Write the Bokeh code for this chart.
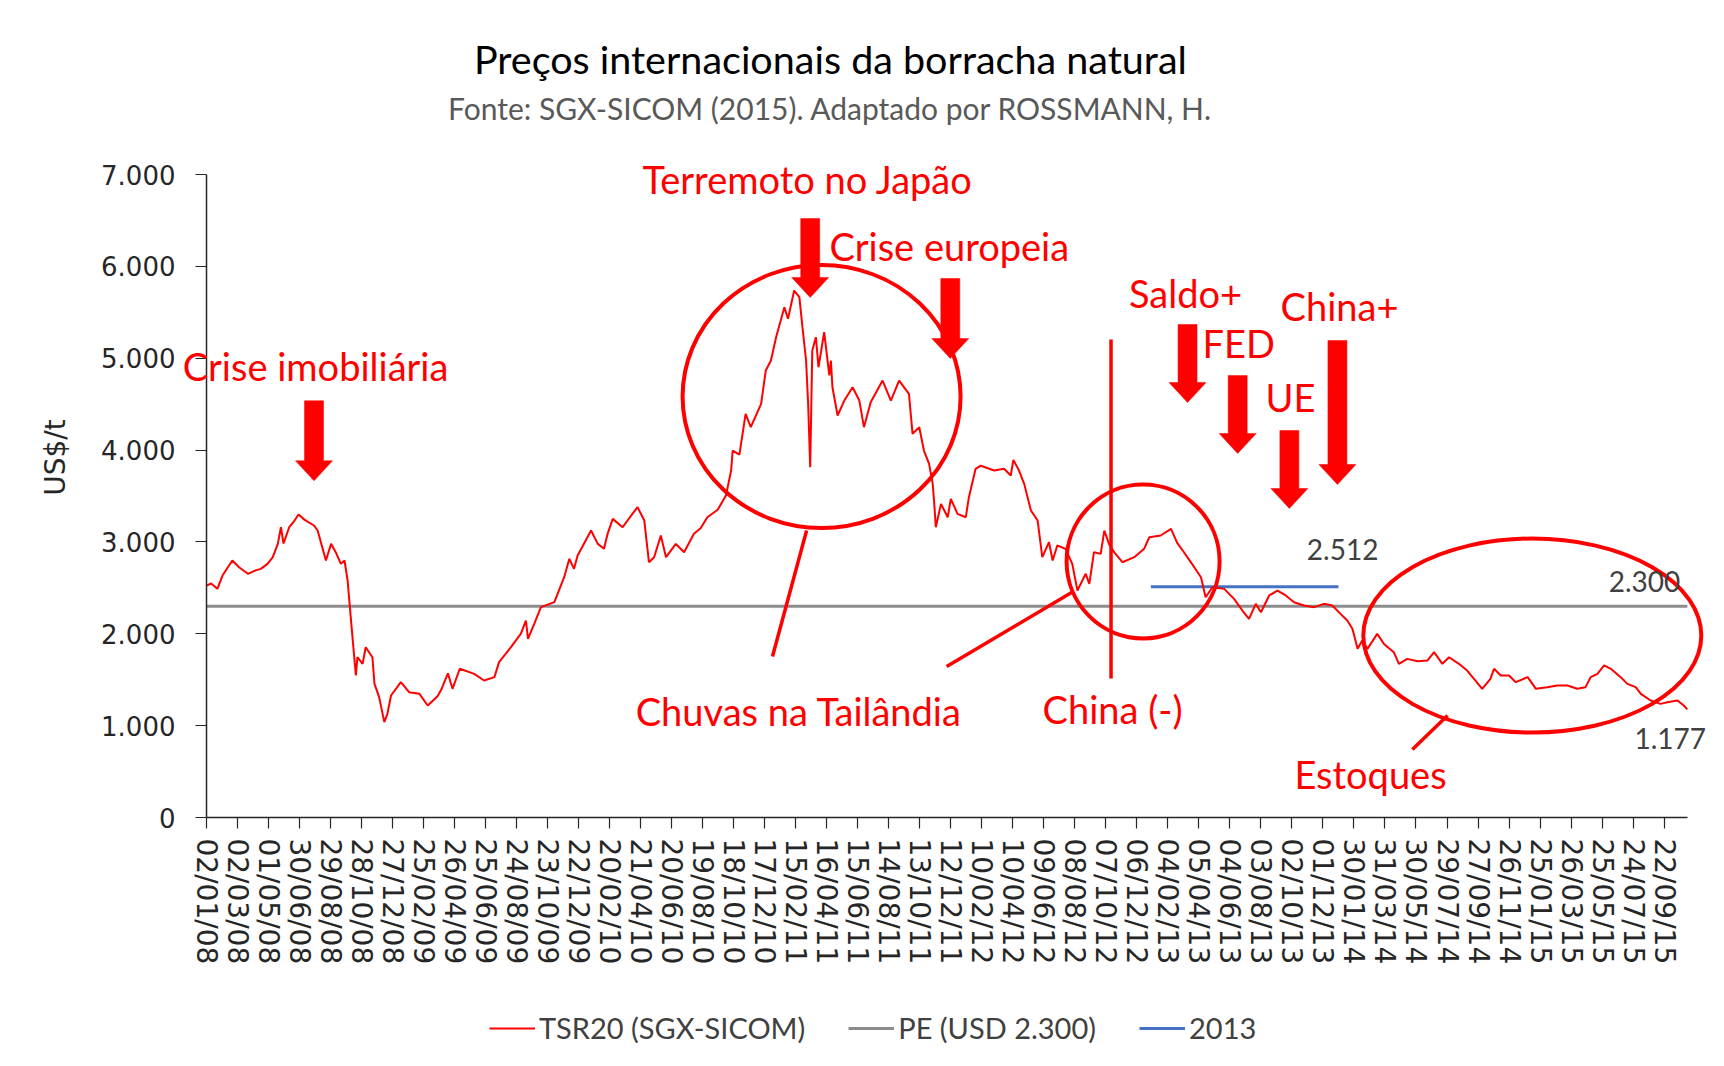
import math
import pandas as pd
from bokeh.plotting import figure
from bokeh.models import Range1d, FixedTicker, Label, Legend, LegendItem, ColumnDataSource
from bokeh.embed import file_html
from bokeh.resources import INLINE

# ---------------- data ----------------
inicio = "2008-01-02"
dias = [0, 9, 21, 31, 50, 63, 80, 95, 105, 118, 128, 138, 144, 149, 160, 170, 178, 190, 208, 215,
        231, 241, 250, 260, 267, 273, 276, 283, 289, 292, 302, 308, 321, 325, 334, 344, 350, 357, 376, 392,
        412, 428, 447, 454, 467, 476, 490, 518, 537, 557, 566, 589, 608, 618, 622, 634, 647, 673, 692, 702,
        711, 718, 744, 757, 769, 776, 786, 805, 824, 834, 847, 856, 866, 879, 889, 908, 924, 943, 956, 969,
        989, 1005, 1015, 1018, 1031, 1043, 1053, 1073, 1082, 1092, 1102, 1118, 1125, 1137, 1147, 1153, 1160, 1164, 1168, 1172,
        1179, 1184, 1195, 1205, 1208, 1211, 1221, 1234, 1250, 1263, 1272, 1285, 1308, 1324, 1340, 1359, 1366, 1379, 1388, 1398,
        1405, 1408, 1411, 1421, 1434, 1440, 1453, 1469, 1475, 1488, 1498, 1524, 1543, 1556, 1561, 1572, 1582, 1595, 1608, 1617,
        1630, 1637, 1646, 1662, 1675, 1685, 1701, 1708, 1717, 1730, 1737, 1746, 1756, 1772, 1795, 1814, 1824, 1846, 1866, 1878,
        1891, 1911, 1924, 1933, 1946, 1969, 1988, 2004, 2017, 2030, 2040, 2056, 2072, 2088, 2104, 2123, 2143, 2162, 2178, 2194,
        2207, 2217, 2227, 2236, 2246, 2265, 2278, 2297, 2307, 2323, 2343, 2362, 2375, 2391, 2404, 2423, 2439, 2455, 2468, 2484,
        2491, 2504, 2520, 2533, 2556, 2572, 2594, 2613, 2633, 2652, 2668, 2678, 2691, 2704, 2717, 2736, 2749, 2765, 2775, 2794,
        2813, 2826, 2846, 2858, 2865]
tsr20 = [2525, 2547, 2490, 2634, 2798, 2725, 2653, 2690, 2707, 2761, 2833, 2979, 3160, 2983, 3160, 3230, 3298, 3240, 3179, 3124,
         2798, 2979, 2888, 2762, 2798, 2580, 2380, 1927, 1546, 1745, 1673, 1854, 1745, 1455, 1310, 1038, 1129, 1328, 1473, 1364,
         1346, 1219, 1320, 1390, 1570, 1401, 1619, 1564, 1491, 1528, 1691, 1854, 1999, 2144, 1945, 2108, 2290, 2344, 2616, 2816,
         2707, 2852, 3124, 2979, 2925, 3088, 3251, 3160, 3306, 3378, 3233, 2779, 2834, 3070, 2834, 2979, 2888, 3088, 3150, 3269,
         3350, 3505, 3777, 3995, 3950, 4394, 4249, 4503, 4866, 4975, 5229, 5555, 5429, 5737, 5664, 5338, 4975, 4503, 3814, 5084,
         5229, 4902, 5283, 4812, 4975, 4684, 4376, 4539, 4684, 4539, 4249, 4521, 4757, 4539, 4757, 4612, 4177, 4249, 3995, 3850,
         3632, 3414, 3160, 3414, 3269, 3469, 3306, 3269, 3487, 3796, 3830, 3777, 3796, 3723, 3893, 3777, 3632, 3342, 3233, 2834,
         2997, 2798, 2961, 2925, 2761, 2471, 2653, 2543, 2888, 2870, 3124, 2979, 2888, 2779, 2834, 2925, 3051, 3070, 3143, 2990,
         2888, 2725, 2616, 2398, 2507, 2489, 2380, 2253, 2163, 2326, 2235, 2417, 2471, 2417, 2344, 2308, 2290, 2326, 2308, 2217,
         2144, 2054, 1836, 1927, 1836, 1999, 1890, 1800, 1673, 1727, 1700, 1709, 1800, 1673, 1745, 1673, 1600, 1491, 1401, 1510,
         1619, 1546, 1546, 1473, 1528, 1401, 1419, 1437, 1437, 1401, 1419, 1528, 1564, 1655, 1619, 1528, 1455, 1419, 1346, 1274,
         1237, 1255, 1274, 1219, 1177]
assert len(dias) == len(tsr20)

pe_valor = 2300
ano2013_inicio = "2013-01-02"
ano2013_fim = "2013-12-31"
ano2013_valor = 2512

rotulos_x = ["02/01/08", "02/03/08", "01/05/08", "30/06/08", "29/08/08", "28/10/08", "27/12/08", "25/02/09",
             "26/04/09", "25/06/09", "24/08/09", "23/10/09", "22/12/09", "20/02/10", "21/04/10", "20/06/10",
             "19/08/10", "18/10/10", "17/12/10", "15/02/11", "16/04/11", "15/06/11", "14/08/11", "13/10/11",
             "12/12/11", "10/02/12", "10/04/12", "09/06/12", "08/08/12", "07/10/12", "06/12/12", "04/02/13",
             "05/04/13", "04/06/13", "03/08/13", "02/10/13", "01/12/13", "30/01/14", "31/03/14", "30/05/14",
             "29/07/14", "27/09/14", "26/11/14", "25/01/15", "26/03/15", "25/05/15", "24/07/15", "22/09/15"]
ticks_y = [0, 1000, 2000, 3000, 4000, 5000, 6000, 7000]
rotulos_y = ["0", "1.000", "2.000", "3.000", "4.000", "5.000", "6.000", "7.000"]

legenda = ["TSR20 (SGX-SICOM)", "PE (USD 2.300)", "2013"]

# ---------------- layout constants (canvas pixels) ----------------
W, H = 1716, 1060
X0_PX = 206              # canvas x of the first date
PX_DAY = 0.51688         # pixels per day
Y0_PX = 817              # canvas y of value 0
PX_VAL = 643 / 7000      # pixels per US$/t
Y_MAX = 7000

t0 = pd.Timestamp(inicio)
DAY_MS = 86400000.0


def ms(ts):
    return pd.Timestamp(ts).value / 1e6


def X(d):
    return ms(t0) + d * DAY_MS


datas = [t0 + pd.Timedelta(days=d) for d in dias]
src = ColumnDataSource(dict(data=datas, valor=tsr20))

x_range = Range1d(X(-X0_PX / PX_DAY), X((W - X0_PX) / PX_DAY))
y_range = Range1d(-(H - Y0_PX) / PX_VAL, Y0_PX / PX_VAL)

p = figure(width=W, height=H, x_axis_type="datetime", x_range=x_range, y_range=y_range,
           output_backend="svg", toolbar_location=None,
           min_border_left=0, min_border_right=0, min_border_top=0, min_border_bottom=0)
p.outline_line_color = None
p.xgrid.visible = False
p.ygrid.visible = False
p.background_fill_color = "white"
p.border_fill_color = "white"

# axes (drawn at fixed data locations inside the canvas)
tick_ms = [ms(pd.to_datetime(s, format="%d/%m/%y")) for s in rotulos_x]
p.xaxis.ticker = FixedTicker(ticks=tick_ms)
p.xaxis.major_label_overrides = {t: s for t, s in zip(tick_ms, rotulos_x)}
p.xaxis.major_label_orientation = "vertical"
p.xaxis.bounds = (X(dias[0]), X(dias[-1]))
p.xaxis.fixed_location = 0
p.yaxis.ticker = FixedTicker(ticks=ticks_y)
p.yaxis.major_label_overrides = {t: s for t, s in zip(ticks_y, rotulos_y)}
p.yaxis.bounds = (0, Y_MAX)
p.yaxis.fixed_location = X(dias[0])
for ax in (p.xaxis, p.yaxis):
    ax.axis_line_color = "#262626"
    ax.axis_line_width = 1.5
    ax.major_tick_line_color = "#262626"
    ax.major_tick_line_width = 1.2
    ax.major_tick_out = 11
    ax.major_tick_in = 0
    ax.minor_tick_line_color = None
    ax.major_label_text_font = "DejaVu Sans"
    ax.major_label_text_color = "#262626"
p.xaxis.major_label_text_font_size = "28px"
p.xaxis.major_label_standoff = 10
p.yaxis.major_label_text_font_size = "26px"
p.yaxis.major_label_standoff = 20

# series
r_pe = p.line([X(dias[0]), X(dias[-1])], [pe_valor, pe_valor], line_color="#8C8C8C", line_width=3)
r_13 = p.line([ms(ano2013_inicio), ms(ano2013_fim)], [ano2013_valor, ano2013_valor],
              line_color="#4472C4", line_width=3)
r_tsr = p.line(x="data", y="valor", source=src, line_color="#FF0000", line_width=2)

# y axis title (placed above the axis middle, as in the original)
p.add_layout(Label(x=X(-292), y=3919, text="US$/t", angle=math.pi / 2, text_align="center",
                   text_baseline="middle", text_font="DejaVu Sans", text_font_size="28px",
                   text_color="#262626"))

# ---------------- annotations ----------------
RED = "#FF0000"
# ellipses: (day, value, width px, height px)
elipses = [(1190, 4583, 278, 263), (1812, 2787, 153, 154), (2565, 1981, 338, 194)]
p.ellipse(x=[X(e[0]) for e in elipses], y=[e[1] for e in elipses],
          width=[e[2] / PX_DAY * DAY_MS for e in elipses], height=[e[3] / PX_VAL for e in elipses],
          fill_color=None, line_color=RED, line_width=4)

# pointer lines
linhas = [(1161, 3124, 1095, 1753), (1432, 1644, 1677, 2460), (1750, 5204, 1750, 1513), (2333, 740, 2401, 1110)]
p.segment(x0=[X(l[0]) for l in linhas], y0=[l[1] for l in linhas],
          x1=[X(l[2]) for l in linhas], y1=[l[3] for l in linhas], line_color=RED, line_width=3.5)

# block arrows: tip (day, value), length in px
setas = [(208, 3666, 80), (1168, 5661, 79), (1439, 4997, 80), (1898, 4518, 78),
         (1995, 3962, 78), (2095, 3364, 78), (2188, 3625, 144)]
xs, ys = [], []
for d, v, L in setas:
    shape = [(0, 0), (-18.5, 20), (-9.5, 20), (-9.5, L), (9.5, L), (9.5, 20), (18.5, 20)]
    xs.append([X(d) + dx / PX_DAY * DAY_MS for dx, dy in shape])
    ys.append([v + dy / PX_VAL for dx, dy in shape])
p.patches(xs, ys, fill_color=RED, line_color=RED, line_width=0.5)

textos = [("Crise imobiliária", 211, 4910), ("Terremoto no Japão", 1163, 6946), ("Crise europeia", 1437, 6227),
          ("Saldo+", 1894, 5715), ("FED", 1997, 5171), ("UE", 2097, 4583), ("China+", 2192, 5563),
          ("Chuvas na Tailândia", 1146, 1154), ("China (-)", 1753, 1176), ("Estoques", 2252, 479)]
for t, d, v in textos:
    p.add_layout(Label(x=X(d), y=v, text=t, text_align="center", text_baseline="middle",
                       text_font="Lato", text_font_size="38px", text_color=RED))

rot_dados = [("2.512", 2198, 2918), ("2.300", 2782, 2569), ("1.177", 2832, 860)]
for t, d, v in rot_dados:
    p.add_layout(Label(x=X(d), y=v, text=t, text_align="center", text_baseline="middle",
                       text_font="Lato", text_font_size="28px", text_color="#404040"))

p.add_layout(Label(x=X(1207), y=8263, text="Preços internacionais da borracha natural", text_align="center",
                   text_baseline="middle", text_font="Lato", text_font_size="39.5px", text_color="#000000"))
p.add_layout(Label(x=X(1207), y=7729, text="Fonte: SGX-SICOM (2015). Adaptado por ROSSMANN, H.",
                   text_align="center", text_baseline="middle", text_font="Lato", text_font_size="30px",
                   text_color="#595959"))

leg = Legend(items=[LegendItem(label=legenda[0], renderers=[r_tsr]),
                    LegendItem(label=legenda[1], renderers=[r_pe]),
                    LegendItem(label=legenda[2], renderers=[r_13])],
             orientation="horizontal", location=(489, H - 1045), glyph_width=46, glyph_height=30,
             label_height=30, label_standoff=4, spacing=43, padding=0, margin=0,
             border_line_color=None, background_fill_alpha=0,
             label_text_font="Lato", label_text_font_size="29px", label_text_color="#404040")
p.add_layout(leg)

open("out.html", "w").write(file_html(p, INLINE))
